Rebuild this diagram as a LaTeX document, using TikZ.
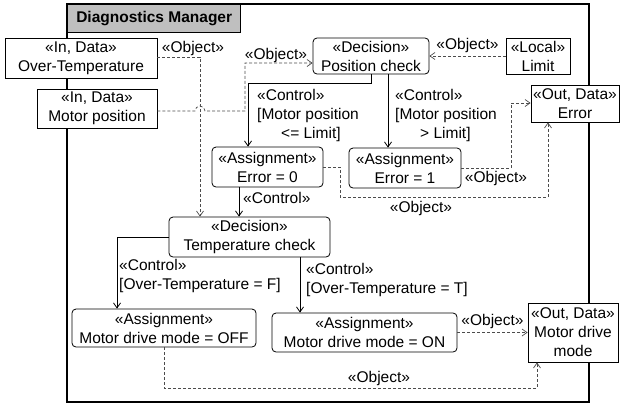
\documentclass[tikz,border=0pt]{standalone}
\usepackage{fontspec}
\setmainfont{Liberation Sans}
\usetikzlibrary{arrows.meta, positioning}

\newcommand{\dgfont}{\fontsize{15.5}{19}\selectfont}

\begin{document}
\begin{tikzpicture}[x=1pt, y=-1pt, >={Straight Barb[length=5pt, width=7pt]}, font=\dgfont,
    databox/.style={draw, fill=white, line width=0.8pt, inner sep=0pt, align=center},
    actbox/.style={databox, rounded corners=4pt},
    titlebox/.style={draw, fill=black!25, line width=1.4pt, inner sep=0pt, font=\dgfont\bfseries},
    ctrlflow/.style={->, line width=0.8pt},
    objflow/.style={->, densely dashed, line width=0.7pt, black!70},
    lbl/.style={inner sep=0pt, align=left, text=black}]

\useasboundingbox (0,0) rectangle (620,405);

% the frame of the diagnostics manager with its name tab
\draw[line width=1.6pt] (67,4) rectangle (589,402);
\node[titlebox, anchor=north west, minimum width=173, minimum height=28] (title) at (67,4) {Diagnostics Manager};

% data pins and actions
\node[databox, minimum width=152, minimum height=40] (overtemp) at (81,58) {«In, Data»\\Over-Temperature};
\node[databox, minimum width=120, minimum height=39] (motorpos) at (97,108.5) {«In, Data»\\Motor position};
\node[actbox, minimum width=116, minimum height=36] (poscheck) at (371,56) {«Decision»\\Position check};
\node[databox, minimum width=64, minimum height=36] (limit) at (538,56) {«Local»\\Limit};
\node[databox, minimum width=88, minimum height=37] (errorout) at (575,103.5) {«Out, Data»\\Error};
\node[actbox, minimum width=111, minimum height=40] (errzero) at (267.5,167) {«Assignment»\\Error = 0};
\node[actbox, minimum width=112, minimum height=40] (errone) at (405,168) {«Assignment»\\Error = 1};
\node[actbox, minimum width=161, minimum height=40] (tempcheck) at (249.5,237) {«Decision»\\Temperature check};
\node[actbox, minimum width=184, minimum height=38] (driveoff) at (164,328) {«Assignment»\\Motor drive mode = OFF};
\node[actbox, minimum width=185, minimum height=39] (driveon) at (364.5,332.5) {«Assignment»\\Motor drive mode = ON};
\node[databox, minimum width=90, minimum height=59] (driveout) at (573,332.5) {«Out, Data»\\Motor drive\\mode};

% object flows (dashed)
\draw[objflow] (overtemp.east |- 0,57) -| (tempcheck.north -| 200,0);
\node[lbl] (objA) at (193,48) {«Object»};

% motor position hops over the over-temperature line
\draw[objflow] (motorpos.east |- 0,111) -- (195,111) arc[start angle=180, end angle=0, radius=5pt] -- (245,111) |- (poscheck.west |- 0,63);
\node[lbl] (objB) at (276,55) {«Object»};

\draw[objflow] (limit.west) -- (poscheck.east) node[lbl, midway, above=3pt] (objC) {«Object»};

\draw[objflow] (errone.east) -| (511,103) -- (errorout.west |- 0,103);
\node[lbl] (objD) at (496,178) {«Object»};

\draw[objflow] (errzero.east) -- (340,167) |- (548,197) -- (errorout.south -| 548,0);
\node[lbl] (objE) at (421,208) {«Object»};

\draw[objflow] (driveon.east) -- (driveout.west |- driveon.east) node[lbl, midway, above=3pt] (objF) {«Object»};

\draw[objflow] (driveoff.south) |- (537,388) -- (driveout.south -| 537,0);
\node[lbl] (objG) at (379,378) {«Object»};

% control flows (solid)
\draw[ctrlflow] (poscheck.south) -- ++(0,9) -| (errzero.north -| 248,0);
\node[lbl, anchor=west] (ctlA) at (257,115) {«Control»\\{}[Motor position\\\hspace*{24pt}<= Limit]};

\draw[ctrlflow] (poscheck.south -| 388,0) -- (errone.north -| 388,0);
\node[lbl, anchor=west] (ctlB) at (395,115) {«Control»\\{}[Motor position\\\hspace*{25pt}> Limit]};

\draw[ctrlflow] (errzero.south -| 239,0) -- (tempcheck.north -| 239,0);
\node[lbl, anchor=west] (ctlC) at (243,198) {«Control»};

\draw[ctrlflow] (tempcheck.west) -| (driveoff.north -| 117,0);
\node[lbl, anchor=west] (ctlD) at (119,276) {«Control»\\{}[Over-Temperature = F]};

\draw[ctrlflow] (tempcheck.south -| 300,0) -- (driveon.north -| 300,0);
\node[lbl, anchor=west] (ctlE) at (306,280) {«Control»\\{}[Over-Temperature = T]};

\end{tikzpicture}
\end{document}
